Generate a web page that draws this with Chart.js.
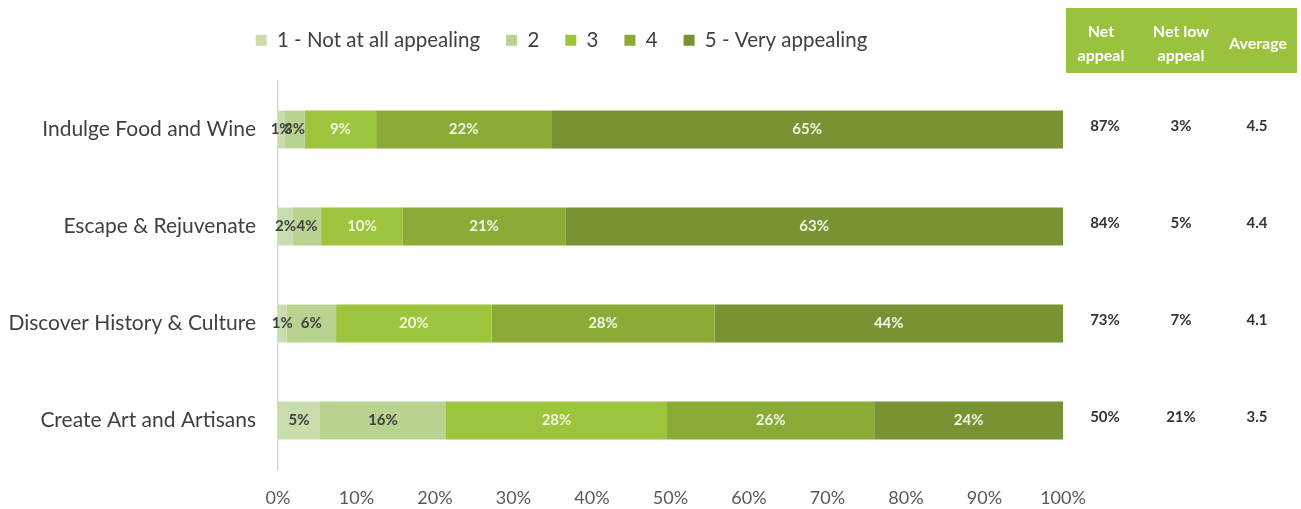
<!DOCTYPE html>
<html><head><meta charset="utf-8">
<script src="https://cdn.jsdelivr.net/npm/chart.js@4"></script>
<style>html,body{margin:0;padding:0;background:#fff}#wrap{width:1301px;height:509px;position:relative}</style>
</head><body><div id="wrap"><canvas id="c"></canvas></div>
<script>
const categories = ['Indulge Food and Wine', 'Escape & Rejuvenate', 'Discover History & Culture', 'Create Art and Artisans'];
const seriesNames = ['1 - Not at all appealing', '2', '3', '4', '5 - Very appealing'];
const rating1 = [0.8, 1.9, 1.1, 5.35];
const rating2 = [2.6, 3.6, 6.3, 16.05];
const rating3 = [9.1, 10.4, 19.8, 28.15];
const rating4 = [22.3, 20.7, 28.4, 26.4];
const rating5 = [65.2, 63.4, 44.4, 24.05];
const netAppeal = [87, 84, 73, 50];
const netLowAppeal = [3, 5, 7, 21];
const averageScore = [4.5, 4.4, 4.1, 3.5];
const tableHeaders = [['Net', 'appeal'], ['Net low', 'appeal'], ['Average']];

const FONT = 'Lato, "Open Sans", sans-serif';
const colors = ['#c9dcac', '#b8d290', '#9cc43d', '#8aac36', '#789432'];
const labelColors = ['#404040', '#404040', '#f4f4dc', '#f4f4e8', '#f4f4e8'];
const series = [rating1, rating2, rating3, rating4, rating5];

const datasets = series.map((d, i) => ({
  label: seriesNames[i], data: d, backgroundColor: colors[i], borderWidth: 0,
  barPercentage: 0.39, categoryPercentage: 1
}));

const legendTweak = {
  id: 'legendTweak',
  beforeLayout(chart) {
    const lg = chart.legend;
    if (lg && !lg._patched) {
      const f = lg.fit.bind(lg);
      lg.fit = function () { f(); this.height = 81; };
      lg._patched = true;
    }
  },
  afterLayout(chart) {
    const lg = chart.legend;
    lg.left += 30; lg.right += 30; lg.top += 4; lg.bottom += 4;
  }
};

const barLabels = {
  id: 'barLabels',
  afterDatasetsDraw(chart) {
    const ctx = chart.ctx;
    ctx.save();
    ctx.font = 'bold 15px ' + FONT;
    ctx.textAlign = 'center';
    ctx.textBaseline = 'middle';
    chart.data.datasets.forEach((ds, i) => {
      const meta = chart.getDatasetMeta(i);
      meta.data.forEach((bar, j) => {
        ctx.fillStyle = labelColors[i];
        ctx.fillText(Math.round(ds.data[j]) + '%', (bar.x + bar.base) / 2, bar.y);
      });
    });
    ctx.restore();
  }
};

const sideTable = {
  id: 'sideTable',
  afterDraw(chart) {
    const ctx = chart.ctx;
    const cols = [1101, 1181, 1258];
    ctx.save();
    ctx.fillStyle = '#9bc23f';
    ctx.fillRect(1066, 8, 231, 65);
    ctx.fillStyle = '#ffffff';
    ctx.font = 'bold 16px ' + FONT;
    ctx.textAlign = 'center';
    ctx.textBaseline = 'middle';
    tableHeaders.forEach((lines, k) => {
      if (lines.length === 2) {
        ctx.fillText(lines[0], cols[k], 32);
        ctx.fillText(lines[1], cols[k], 56);
      } else {
        ctx.fillText(lines[0], cols[k], 44);
      }
    });
    const ys = chart.scales.y;
    ctx.fillStyle = '#333333';
    ctx.font = 'bold 15px ' + FONT;
    categories.forEach((c, j) => {
      const y = ys.getPixelForValue(j) - 3;
      ctx.fillText(netAppeal[j] + '%', 1105, y);
      ctx.fillText(netLowAppeal[j] + '%', 1181, y);
      ctx.fillText(averageScore[j].toFixed(1), 1257, y);
    });
    ctx.restore();
  }
};

new Chart(document.getElementById('c'), {
  type: 'bar',
  data: { labels: categories, datasets },
  options: {
    indexAxis: 'y',
    responsive: true,
    maintainAspectRatio: false,
    animation: false,
    layout: { padding: { top: 0, right: 238, bottom: 2, left: 0 } },
    plugins: {
      legend: {
        position: 'top',
        labels: {
          boxWidth: 11, boxHeight: 11, padding: 26, color: '#404040',
          font: { family: FONT, size: 20.5 }
        }
      },
      tooltip: { enabled: false }
    },
    scales: {
      x: {
        stacked: true, min: 0, max: 100,
        grid: { display: false, drawTicks: false },
        border: { display: false },
        ticks: { stepSize: 10, padding: 18, color: '#595959', font: { family: FONT, size: 18 },
          callback: v => v + '%' },
        afterFit(scale) { scale.height = 38; }
      },
      y: {
        stacked: true,
        grid: { display: false, drawTicks: false },
        border: { display: true, color: '#d9d9d9', width: 1.5 },
        ticks: { padding: 22, color: '#404040', font: { family: FONT, size: 21 } },
        afterFit(scale) { scale.width = 278; }
      }
    }
  },
  plugins: [legendTweak, barLabels, sideTable]
});
</script>
</body></html>
